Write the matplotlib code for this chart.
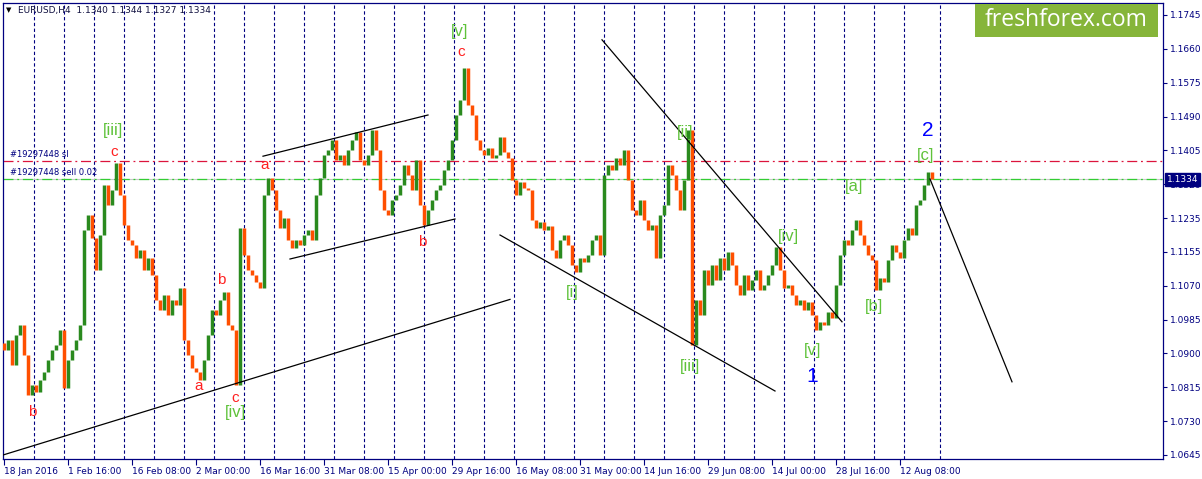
import numpy as np
import matplotlib.pyplot as plt
from matplotlib.patches import Rectangle

# EURUSD H4, close price sampled every 4 bars (18 Jan 2016 .. 18 Aug 2016)
step = 4
first_open = 1.0925
closes = [
    1.0908, 1.0933, 1.0870, 1.0945, 1.0970, 1.0895, 1.0795, 1.0820, 1.0803, 1.0833,
    1.0853, 1.0883, 1.0908, 1.0920, 1.0958, 1.0813, 1.0883, 1.0908, 1.0933, 1.0970,
    1.1208, 1.1245, 1.1188, 1.1108, 1.1195, 1.1320, 1.1270, 1.1308, 1.1375, 1.1295,
    1.1220, 1.1183, 1.1170, 1.1138, 1.1158, 1.1108, 1.1138, 1.1095, 1.1033, 1.1008,
    1.1045, 1.0995, 1.1033, 1.1020, 1.1063, 1.0933, 1.0895, 1.0863, 1.0853, 1.0833,
    1.0883, 1.0945, 1.1008, 1.0995, 1.1033, 1.1053, 1.0970, 1.0958, 1.0820, 1.1213,
    1.1145, 1.1108, 1.1095, 1.1078, 1.1063, 1.1295, 1.1338, 1.1308, 1.1258, 1.1213,
    1.1238, 1.1183, 1.1163, 1.1183, 1.1170, 1.1195, 1.1208, 1.1183, 1.1295, 1.1338,
    1.1395, 1.1408, 1.1433, 1.1383, 1.1395, 1.1370, 1.1408, 1.1433, 1.1453, 1.1383,
    1.1370, 1.1395, 1.1458, 1.1408, 1.1308, 1.1258, 1.1245, 1.1283, 1.1295, 1.1320,
    1.1370, 1.1345, 1.1308, 1.1383, 1.1270, 1.1220, 1.1258, 1.1283, 1.1308, 1.1320,
    1.1358, 1.1383, 1.1433, 1.1495, 1.1533, 1.1613, 1.1520, 1.1495, 1.1433, 1.1408,
    1.1395, 1.1413, 1.1388, 1.1395, 1.1440, 1.1403, 1.1388, 1.1333, 1.1295, 1.1328,
    1.1313, 1.1308, 1.1233, 1.1213, 1.1228, 1.1208, 1.1218, 1.1158, 1.1138, 1.1183,
    1.1195, 1.1170, 1.1120, 1.1103, 1.1138, 1.1128, 1.1145, 1.1183, 1.1195, 1.1145,
    1.1345, 1.1370, 1.1358, 1.1388, 1.1370, 1.1408, 1.1333, 1.1258, 1.1245, 1.1283,
    1.1233, 1.1208, 1.1220, 1.1138, 1.1245, 1.1270, 1.1370, 1.1345, 1.1308, 1.1258,
    1.1333, 1.1458, 1.0920, 1.1033, 1.0995, 1.1108, 1.1070, 1.1120, 1.1083, 1.1138,
    1.1108, 1.1153, 1.1120, 1.1070, 1.1045, 1.1095, 1.1058, 1.1083, 1.1108, 1.1058,
    1.1070, 1.1095, 1.1120, 1.1165, 1.1108, 1.1063, 1.1070, 1.1045, 1.1020, 1.1033,
    1.1008, 1.1028, 1.0995, 1.0958, 1.0978, 1.0970, 1.1003, 1.0988, 1.1070, 1.1145,
    1.1183, 1.1170, 1.1208, 1.1233, 1.1195, 1.1170, 1.1145, 1.1133, 1.1058, 1.1088,
    1.1078, 1.1133, 1.1170, 1.1153, 1.1138, 1.1183, 1.1213, 1.1195, 1.1270, 1.1283,
    1.1320, 1.1353, 1.1334,
]

last_price = 1.1334
sl_price = 1.1380
order_id = "#19297448"

ytick_labels = ["1.1745", "1.1660", "1.1575", "1.1490", "1.1405", "1.1320", "1.1235",
                "1.1155", "1.1070", "1.0985", "1.0900", "1.0815", "1.0730", "1.0645"]
xtick_labels = ["18 Jan 2016", "1 Feb 16:00", "16 Feb 08:00", "2 Mar 00:00", "16 Mar 16:00",
                "31 Mar 08:00", "15 Apr 00:00", "29 Apr 16:00", "16 May 08:00", "31 May 00:00",
                "14 Jun 16:00", "29 Jun 08:00", "14 Jul 00:00", "28 Jul 16:00", "12 Aug 08:00"]
bars_per_label = 64

# trend lines: (bar0, price0, bar1, price1)
trend_lines = [
    (-0.5, 1.0645, 506.5, 1.1034),
    (259.5, 1.1392, 424.5, 1.1495),
    (286.5, 1.1135, 451.5, 1.1235),
    (598.5, 1.1683, 838.5, 1.0978),
    (496.5, 1.1195, 771.5, 1.0805),
    (926.5, 1.1335, 1008.5, 1.0828),
]

# wave labels (text, bar, price)
red_labels = [("b", 28.5, 1.0752), ("c", 110.5, 1.1403), ("a", 195.5, 1.0818),
              ("b", 217.5, 1.1083), ("c", 231.5, 1.0788), ("a", 261.5, 1.1370),
              ("b", 418.5, 1.1177), ("c", 457.5, 1.1652)]
green_labels = [("[iii]", 109.5, 1.1457), ("[iv]", 231.5, 1.0750), ("[v]", 456.5, 1.1703),
                ("[i]", 568.5, 1.1052), ("[ii]", 681.5, 1.1452), ("[iii]", 686.5, 1.0867),
                ("[iv]", 784.5, 1.1192), ("[v]", 809.5, 1.0907), ("[a]", 850.5, 1.1315),
                ("[b]", 870.5, 1.1015), ("[c]", 922.5, 1.1393)]
blue_labels = [("1", 808.5, 1.0840), ("2", 924.5, 1.1455)]

W, H = 1202, 479
navy = "#000080"
bull = "#2a8a1e"
bear = "#ff4f00"

fig = plt.figure(figsize=(W / 100, H / 100), dpi=100)
ax = fig.add_axes([3 / W, 20 / H, 1160 / W, 456 / H])
ax.set_xlim(-0.5, 1159.5)
ax.set_ylim(1.0635, 1.1775)

# weekly grid
for gx in list(range(30, 901, 30)) + [936]:
    ax.axvline(gx, color=navy, lw=0.8, ls=(0, (3, 2.2)), zorder=1)

# order lines
ax.axhline(last_price, color="#c8c8c8", lw=0.8, zorder=2)
ax.axhline(last_price, color="#32cd32", lw=0.9, ls=(0, (8, 3, 1.5, 3)), zorder=2)
ax.axhline(sl_price, color="#dc143c", lw=0.9, ls=(0, (8, 3, 1.5, 3)), zorder=2)
ax.text(6, sl_price + 0.0006, order_id + " sl", color=navy, fontsize=6, va="bottom")
ax.text(6, last_price + 0.0006, order_id + " sell 0.02", color=navy, fontsize=6, va="bottom")

# price bars
c = np.array(closes)
o = np.r_[first_open, c[:-1]]
x = np.arange(len(c)) * step
up = c >= o
ax.vlines(x[up], o[up], c[up], color=bull, lw=2.5, zorder=3)
ax.vlines(x[~up], c[~up], o[~up], color=bear, lw=2.5, zorder=3)

for x0, p0, x1, p1 in trend_lines:
    ax.plot([x0, x1], [p0, p1], color="black", lw=0.9, zorder=4)

for t, bx, p in red_labels:
    ax.text(bx, p, t, color="#ff2020", fontsize=11, ha="center", va="center",
            family="Liberation Sans", zorder=5)
for t, bx, p in green_labels:
    ax.text(bx, p, t, color="#5fc23a", fontsize=12, ha="center", va="center",
            family="Liberation Sans", zorder=5)
for t, bx, p in blue_labels:
    ax.text(bx, p, t, color="#0000ff", fontsize=15, ha="center", va="center",
            family="Liberation Sans", zorder=5)

# axes styling
for s in ax.spines.values():
    s.set_color(navy)
    s.set_linewidth(0.9)
ax.yaxis.tick_right()
ax.set_yticks(np.linspace(1.1745, 1.0645, len(ytick_labels)))
ax.set_yticklabels(ytick_labels)
ax.tick_params(axis="y", direction="out", length=3, width=0.8, color=navy,
               labelsize=6.5, labelcolor=navy, pad=2)
ax.set_xticks(np.arange(len(xtick_labels)) * bars_per_label)
ax.set_xticklabels(xtick_labels, ha="left")
ax.tick_params(axis="x", direction="out", length=4, width=0.8, color=navy,
               labelsize=6.5, labelcolor=navy, pad=2)

# current price tag
ax.text(1.003, last_price, "1.1334", transform=ax.get_yaxis_transform(), color="white",
        fontsize=6.5, va="center", ha="left",
        bbox=dict(boxstyle="square,pad=0.2", fc=navy, ec=navy), zorder=6, clip_on=False)

# header and logo
fig.text(6 / W, 1 - 10 / H, "\u25BC", fontsize=5, color="black", va="center")
fig.text(18 / W, 1 - 10 / H, "EURUSD,H4  1.1340 1.1344 1.1327 1.1334", fontsize=6.5,
         color="#101040", va="center")
fig.patches.append(Rectangle((975 / W, 1 - 37 / H), 183 / W, 33 / H, transform=fig.transFigure,
                             fc="#86b53a", ec="none", zorder=7))
fig.text(1066 / W, 1 - 20 / H, "freshforex.com", fontsize=16.5, color="white", ha="center",
         va="center", family="Open Sans", zorder=8)

fig.savefig("out.png", dpi=100)
